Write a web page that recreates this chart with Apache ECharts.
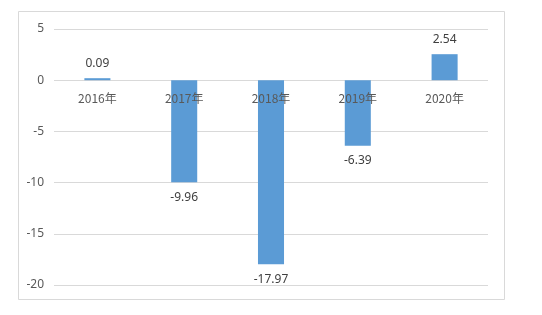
<!DOCTYPE html>
<html><head><meta charset="utf-8">
<script src="https://cdn.jsdelivr.net/npm/echarts@6/dist/echarts.min.js"></script>
<style>html,body{margin:0;padding:0;background:#fff}#c{width:542px;height:315px}</style>
</head><body><div id="c"></div>
<script>
var categories = ['2016年','2017年','2018年','2019年','2020年'];
var values = [0.09, -9.96, -17.97, -6.39, 2.54];
var yTicks = [5, 0, -5, -10, -15, -20];

var gridTop = 29, gridBottom = 30, H = 315;
var plotH = H - gridTop - gridBottom;
var yMin = -20, yMax = 5;
var zeroOffset = -plotH * (0 - yMin) / (yMax - yMin);

var chart = echarts.init(document.getElementById('c'));
chart.setOption({
  animation: false,
  backgroundColor: '#fff',
  graphic: [{type:'rect', shape:{x:18.5,y:11.5,width:486,height:288}, style:{fill:'none', stroke:'#d9d9d9', lineWidth:1}, silent:true}],
  grid: {left:54, right:54, top:gridTop, bottom:gridBottom},
  xAxis: {
    type:'category', data:categories, position:'bottom', offset: zeroOffset, z: 10,
    axisLine:{show:false, onZero:false},
    axisTick:{show:false},
    axisLabel:{color:'#595959', fontSize:12, fontFamily:'Microsoft YaHei, Noto Sans CJK SC, sans-serif', margin:12}
  },
  yAxis: {
    type:'value', min:yMin, max:yMax, interval:5,
    axisLine:{show:false}, axisTick:{show:false},
    axisLabel:{color:'#595959', fontSize:12, fontFamily:'Noto Sans, sans-serif', margin:10},
    splitLine:{lineStyle:{color:'#d9d9d9'}}
  },
  series: [{
    type:'bar', data:values, barWidth:'30%', z: 2, barMinHeight: 2,
    itemStyle:{color:'#5b9bd5'},
    label:{show:true, position:'outside', color:'#404040', fontSize:12, fontFamily:'Noto Sans, sans-serif', distance:9,
      formatter:function(p){return p.value.toFixed(2);}}
  }]
});
</script></body></html>
